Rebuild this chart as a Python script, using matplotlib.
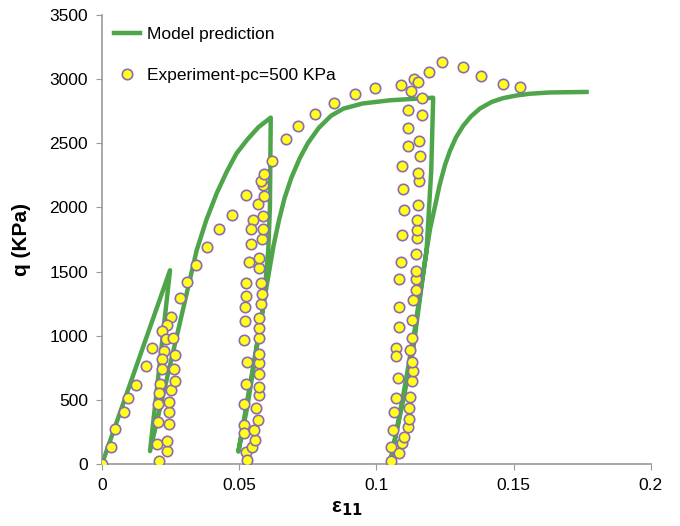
import matplotlib
matplotlib.use("Agg")
import matplotlib.pyplot as plt
from matplotlib.ticker import FormatStrFormatter, MultipleLocator

plt.rcParams['font.family'] = ['Liberation Sans', 'DejaVu Sans']

# model prediction (continuous path through the load / unload loops)
modelo_eps = [0.0, 0.0248,
              0.0175,
              0.0260, 0.0345, 0.0380, 0.0418, 0.0455, 0.0490, 0.0530, 0.0570, 0.0615,
              0.0612, 0.0606, 0.0588, 0.0551, 0.0497,
              0.0530, 0.0560, 0.0585, 0.0605, 0.0625, 0.0645, 0.0665, 0.0690, 0.0720, 0.0750,
              0.0790, 0.0835, 0.0880, 0.0950, 0.1050, 0.1150, 0.1207,
              0.1200, 0.1183, 0.1158, 0.1134, 0.1098, 0.1055,
              0.1100, 0.1140, 0.1171, 0.1195, 0.1231, 0.1250, 0.1268, 0.1290, 0.1316, 0.1345,
              0.1377, 0.1420, 0.1462, 0.1510, 0.1559, 0.1632, 0.1766]
modelo_q = [0, 1510,
            100,
            880, 1665, 1900, 2110, 2280, 2420, 2530, 2625, 2700,
            2000, 1670, 1227, 760, 96,
            450, 850, 1200, 1450, 1700, 1900, 2070, 2230, 2380, 2500,
            2620, 2715, 2770, 2810, 2835, 2848, 2855,
            2290, 1670, 1280, 890, 500, 57,
            560, 1050, 1500, 1825, 2180, 2330, 2440, 2545, 2635, 2710,
            2770, 2822, 2852, 2872, 2886, 2896, 2900]

# experiment pc = 500 KPa
exp_eps = [0.0, 0.0032, 0.0047, 0.0081, 0.0094, 0.0124, 0.0159, 0.0183,
           0.0251, 0.0238, 0.0220, 0.0234, 0.0227, 0.0220, 0.0217, 0.0212, 0.0209, 0.0205,
           0.0203, 0.0199, 0.0209,
           0.0238, 0.0236, 0.0243, 0.0243, 0.0245, 0.0253, 0.0265, 0.0261, 0.0265, 0.0260,
           0.0284, 0.0311, 0.0342, 0.0381, 0.0426, 0.0474, 0.0524,
           0.0567, 0.0549, 0.0543, 0.0542, 0.0536, 0.0524, 0.0524, 0.0521, 0.0521, 0.0517,
           0.0527, 0.0524, 0.0517, 0.0517, 0.0517, 0.0524, 0.0527,
           0.0545, 0.0557, 0.0555, 0.0567, 0.0563, 0.0571, 0.0571, 0.0571, 0.0571, 0.0574,
           0.0574, 0.0574, 0.0574, 0.0578, 0.0583, 0.0578, 0.0571, 0.0574, 0.0583, 0.0585,
           0.0585, 0.0591, 0.0585, 0.0579, 0.0590, 0.0618, 0.0669, 0.0713, 0.0777, 0.0846,
           0.0923, 0.0996, 0.1089, 0.1126,
           0.1138, 0.1152, 0.1191, 0.1240, 0.1316, 0.1383, 0.1462, 0.1523,
           0.1165, 0.1116, 0.1114, 0.1114, 0.1094, 0.1098, 0.1101, 0.1095, 0.1088, 0.1083,
           0.1083, 0.1083, 0.1071, 0.1071, 0.1077, 0.1073, 0.1064, 0.1059, 0.1055, 0.1055,
           0.1082, 0.1092, 0.1101, 0.1114, 0.1118, 0.1118, 0.1124, 0.1128, 0.1132, 0.1128,
           0.1124, 0.1130, 0.1130, 0.1132, 0.1144, 0.1146, 0.1146, 0.1144, 0.1148, 0.1148,
           0.1148, 0.1150, 0.1156, 0.1150, 0.1158, 0.1156, 0.1165]
exp_q = [0, 130, 270, 403, 517, 619, 767, 900,
         1144, 1084, 1035, 975, 881, 819, 741, 626, 551, 470,
         330, 154, 21,
         101, 182, 310, 403, 484, 577, 650, 741, 848, 983,
         1297, 1422, 1552, 1695, 1833, 1942, 2098,
         2026, 1900, 1831, 1714, 1573, 1414, 1313, 1225, 1115, 965,
         798, 626, 468, 304, 239, 96, 31,
         130, 187, 265, 343, 434, 536, 603, 700, 785, 860,
         980, 1058, 1136, 1246, 1328, 1414, 1529, 1609, 1750, 1831,
         1934, 2088, 2177, 2202, 2262, 2363, 2533, 2638, 2729, 2810,
         2884, 2932, 2951, 2910,
         3003, 2977, 3055, 3131, 3094, 3021, 2964, 2938,
         2852, 2756, 2618, 2480, 2319, 2143, 1981, 1781, 1573, 1441,
         1227, 1071, 902, 842, 668, 512, 408, 265, 135, 26,
         88, 166, 213, 291, 351, 439, 520, 647, 725, 793,
         889, 980, 1123, 1279, 1357, 1443, 1505, 1636, 1765, 1825,
         1903, 2015, 2202, 2268, 2397, 2514, 2722]

fig = plt.figure(figsize=(6.8, 5.26), dpi=100)
ax = fig.add_axes([0.15, 0.118, 0.807, 0.8535])

ax.plot(modelo_eps, modelo_q, color='#4ea54a', lw=3.2, solid_joinstyle='round',
        label='Model prediction', zorder=2)
ax.plot(exp_eps, exp_q, 'o', ms=7.5, mfc='#ffff1a', mec='#8c6bb1', mew=1.2,
        ls='none', label='Experiment-pc=500 KPa', zorder=3)

ax.set_xlim(0, 0.2)
ax.set_ylim(0, 3500)
ax.xaxis.set_major_locator(MultipleLocator(0.05))
ax.yaxis.set_major_locator(MultipleLocator(500))
ax.xaxis.set_major_formatter(FormatStrFormatter('%g'))

for lado in ['top', 'right']:
    ax.spines[lado].set_visible(False)
for lado in ['left', 'bottom']:
    ax.spines[lado].set_color('#9a9a9a')
    ax.spines[lado].set_linewidth(1.2)
ax.tick_params(direction='out', length=4, color='#9a9a9a', labelsize=12.5, pad=6)

ax.set_ylabel('q (KPa)', fontsize=15, fontweight='bold')
ax.yaxis.set_label_coords(-0.13, 0.5)
ax.set_xlabel('ε$_\\mathbf{11}$', fontsize=15, fontweight='bold')
ax.xaxis.set_label_coords(0.446, -0.078)

ax.legend(loc='upper left', frameon=False, fontsize=12.5, handlelength=1.5,
          handletextpad=0.4, labelspacing=1.45, borderaxespad=0.3,
          bbox_to_anchor=(0.0, 1.0))

plt.savefig('out.png', dpi=100)
